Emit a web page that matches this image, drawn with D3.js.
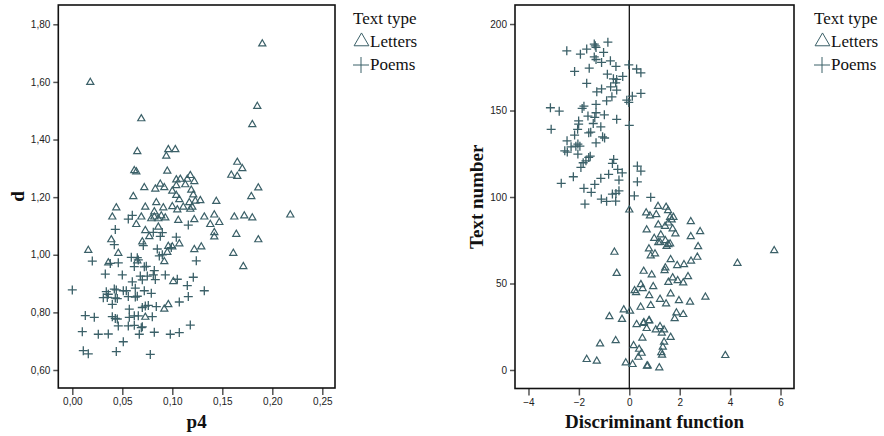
<!DOCTYPE html>
<html>
<head>
<meta charset="utf-8">
<script src="https://cdn.jsdelivr.net/npm/d3@7"></script>
<style>
  body { margin: 0; background: #fff; }
  svg { display: block; }
  .tick text { font-family: "Liberation Sans", Arial, sans-serif; font-size: 10px; fill: #222; }
  .tick line { stroke: #555; stroke-width: 1.5; }
  .title { font-family: "Liberation Serif", "Times New Roman", serif; font-weight: bold; font-size: 19px; fill: #111; }
  .legend text { font-family: "Liberation Serif", "Times New Roman", serif; font-size: 17px; fill: #111; }
</style>
</head>
<body>
<div id="chart"></div>
<script>
// Left panel: p4 vs d, [p4, d]
const lettersP4 = [
  [0.018,1.600],[0.190,1.734],[0.185,1.517],[0.180,1.454],[0.069,1.474],[0.065,1.360],
  [0.096,1.367],[0.103,1.367],[0.094,1.344],[0.062,1.294],[0.064,1.290],[0.095,1.292],
  [0.165,1.323],[0.170,1.301],[0.159,1.278],[0.165,1.274],[0.118,1.277],[0.104,1.262],
  [0.108,1.264],[0.115,1.264],[0.122,1.256],[0.072,1.235],[0.083,1.230],[0.088,1.247],
  [0.092,1.235],[0.104,1.242],[0.113,1.245],[0.100,1.223],[0.119,1.226],[0.104,1.208],
  [0.121,1.210],[0.186,1.234],[0.179,1.204],[0.061,1.204],[0.107,1.193],[0.117,1.183],
  [0.123,1.188],[0.128,1.190],[0.144,1.187],[0.084,1.183],[0.044,1.165],[0.073,1.167],
  [0.091,1.165],[0.100,1.169],[0.105,1.158],[0.111,1.167],[0.118,1.160],[0.120,1.167],
  [0.082,1.151],[0.218,1.140],[0.040,1.133],[0.069,1.133],[0.079,1.127],[0.082,1.133],
  [0.086,1.127],[0.089,1.137],[0.093,1.130],[0.132,1.133],[0.142,1.140],[0.162,1.133],
  [0.172,1.137],[0.180,1.130],[0.064,1.107],[0.106,1.121],[0.122,1.124],[0.138,1.107],
  [0.147,1.114],[0.142,1.079],[0.142,1.064],[0.164,1.073],[0.186,1.054],[0.161,1.007],
  [0.171,0.961],[0.073,1.086],[0.077,1.065],[0.086,1.098],[0.039,1.054],[0.070,1.047],
  [0.107,1.040],[0.096,1.031],[0.100,1.029],[0.129,1.029],[0.122,1.020],[0.016,1.017],
  [0.046,1.007],[0.095,1.010],[0.092,0.978],[0.065,0.981],[0.036,0.974],[0.101,0.909],
  [0.096,0.829],[0.092,0.813],[0.073,0.785]
];
const poemsP4 = [
  [0.056,1.124],[0.060,1.137],[0.116,1.103],[0.043,1.088],[0.081,1.078],[0.090,1.077],
  [0.088,1.064],[0.104,1.061],[0.042,1.035],[0.071,1.032],[0.099,1.025],[0.085,1.020],
  [0.090,1.000],[0.124,0.979],[0.020,0.978],[0.059,0.991],[0.065,0.990],[0.066,0.982],
  [0.087,0.996],[0.038,0.970],[0.046,0.972],[0.033,0.933],[0.050,0.930],[0.062,0.959],
  [0.072,0.958],[0.074,0.960],[0.082,0.945],[0.093,0.930],[0.068,0.926],[0.070,0.913],
  [0.075,0.926],[0.081,0.930],[0.083,0.914],[0.105,0.915],[0.121,0.922],[0.060,0.906],
  [0.115,0.893],[0.000,0.878],[0.042,0.881],[0.044,0.878],[0.051,0.875],[0.054,0.875],
  [0.063,0.884],[0.072,0.875],[0.079,0.866],[0.132,0.875],[0.034,0.872],[0.036,0.863],
  [0.031,0.851],[0.035,0.852],[0.043,0.850],[0.045,0.848],[0.056,0.855],[0.063,0.853],
  [0.065,0.856],[0.116,0.855],[0.040,0.828],[0.057,0.811],[0.070,0.817],[0.073,0.822],
  [0.076,0.824],[0.084,0.820],[0.107,0.836],[0.013,0.789],[0.022,0.783],[0.040,0.785],
  [0.043,0.779],[0.045,0.777],[0.057,0.783],[0.062,0.788],[0.066,0.788],[0.080,0.785],
  [0.046,0.753],[0.056,0.753],[0.062,0.755],[0.070,0.750],[0.118,0.756],[0.010,0.733],
  [0.026,0.724],[0.036,0.725],[0.067,0.724],[0.082,0.731],[0.098,0.724],[0.107,0.730],
  [0.069,0.747],[0.051,0.698],[0.011,0.667],[0.016,0.656],[0.044,0.664],[0.078,0.654]
];

// Right panel: discriminant function vs text number, [df, text number]
const lettersDf = [
  [0.00,92.8],[-1.69,6.4],[-1.29,5.4],[-1.16,15.4],[-0.79,31.2],[-0.54,17.3],[-0.59,68.4],
  [-0.50,56.2],[-0.29,29.6],[-0.22,35.1],[0.03,34.3],[-0.14,4.4],[0.13,3.5],[0.17,14.4],
  [0.39,12.3],[0.49,10.0],[0.36,7.7],[0.70,2.5],[0.52,18.7],[0.29,26.6],[0.45,36.6],
  [0.58,27.7],[0.69,24.3],[0.79,28.9],[0.21,46.2],[0.27,45.1],[0.46,49.7],[0.53,47.4],
  [0.79,43.3],[0.85,37.6],[0.95,48.5],[0.57,57.4],[0.89,55.3],[0.78,70.3],[0.85,66.3],
  [1.02,67.4],[0.69,81.3],[0.99,76.4],[1.15,74.0],[0.67,91.1],[0.82,89.4],[1.07,90.1],
  [1.14,94.9],[1.15,84.2],[1.46,94.4],[1.54,92.4],[1.62,88.6],[1.68,87.1],[1.75,88.6],
  [2.44,86.1],[1.42,83.4],[1.55,85.3],[1.72,81.9],[1.83,79.0],[2.81,80.3],[1.25,78.4],
  [1.22,74.1],[1.43,75.1],[1.55,72.8],[1.48,71.8],[1.62,73.2],[2.44,77.4],[2.73,71.6],
  [1.64,64.1],[2.70,65.5],[2.45,63.2],[2.17,61.2],[1.90,60.7],[1.43,59.3],[1.40,57.8],
  [2.33,54.3],[1.72,53.6],[1.92,52.0],[2.14,50.7],[1.55,51.0],[1.22,41.2],[1.64,44.3],
  [1.97,40.4],[2.41,39.5],[3.02,42.4],[1.46,38.5],[1.87,33.3],[2.14,32.4],[1.80,30.0],
  [0.56,27.3],[0.78,28.7],[1.05,23.5],[1.22,25.4],[1.29,21.6],[1.38,23.5],[1.64,19.2],
  [1.38,16.4],[1.33,13.5],[1.27,10.4],[1.30,8.9],[0.73,2.7],[1.19,1.6],[3.81,8.7],
  [5.75,69.3],[4.29,62.0]
];
const poemsDf = [
  [-2.48,184.5],[-1.94,182.6],[-1.69,185.5],[-1.39,188.4],[-1.35,187.4],[-1.32,186.5],
  [-1.02,183.6],[-0.85,189.5],[-1.39,181.0],[-1.32,179.5],[-1.10,177.8],[-0.75,178.7],
  [-2.17,172.6],[-1.59,174.5],[-0.53,175.5],[-0.02,176.4],[-0.87,171.0],[-0.63,168.3],
  [-0.50,168.0],[-0.54,166.0],[-0.26,169.7],[-1.69,165.7],[-0.74,163.7],[-1.10,162.5],
  [-1.29,160.8],[-0.50,161.8],[0.29,174.0],[0.46,171.8],[0.46,159.9],[0.12,158.3],
  [-0.10,156.0],[-0.02,154.7],[-0.69,157.9],[-0.90,155.6],[-1.32,153.5],[-3.13,151.6],
  [-2.78,149.6],[-1.87,151.2],[-1.80,152.5],[-1.32,148.7],[-1.37,146.0],[-1.64,146.8],
  [-0.99,147.5],[-0.50,144.9],[-2.01,144.0],[-2.01,142.1],[-1.43,142.5],[-1.13,140.6],
  [0.00,141.4],[-3.10,139.1],[-2.05,139.1],[-1.61,137.1],[-1.53,137.5],[-2.17,135.8],
  [-1.06,134.8],[-0.98,134.1],[-2.47,132.5],[-2.04,130.6],[-2.12,129.4],[-1.96,129.4],
  [-2.31,129.0],[-1.32,131.3],[-2.56,126.7],[-2.46,126.0],[-2.04,124.8],[-1.55,123.6],
  [-1.61,122.9],[-0.62,121.7],[-0.67,119.4],[-1.83,119.8],[-1.72,120.9],[-1.92,117.1],
  [0.32,117.9],[0.46,115.0],[-0.46,116.0],[-0.28,114.0],[-2.22,111.7],[-2.70,107.9],
  [-0.82,113.1],[-1.13,110.8],[-0.41,109.8],[0.32,108.8],[-1.37,107.3],[-1.80,105.0],
  [-1.51,102.7],[-0.41,103.6],[-0.53,102.1],[-0.67,101.7],[0.20,100.7],[0.85,99.8],
  [-1.11,98.8],[-0.90,97.5],[-0.54,97.6],[-1.76,95.9]
];

const p4Ticks = [0, 0.05, 0.10, 0.15, 0.20, 0.25];
const dTicks = [0.6, 0.8, 1.0, 1.2, 1.4, 1.6, 1.8];
const dfTicks = [-4, -2, 0, 2, 4, 6];
const numTicks = [0, 50, 100, 150, 200];
const legendLabels = ["Letters", "Poems"];

const markColor = "#3b6068";
const commaFmt = d => d3.format(".2f")(d).replace(".", ",");

const svg = d3.select("#chart")
    .append("svg")
    .attr("width", 884)
    .attr("height", 436);

const triangle = d3.symbol().type(d3.symbolTriangle).size(22);
const plus = s => "M" + (-s) + ",0H" + s + "M0," + (-s) + "V" + s;

function drawPanel(opts) {
    const x = d3.scaleLinear().domain(opts.xDomain).range([opts.left, opts.right]);
    const y = d3.scaleLinear().domain(opts.yDomain).range([opts.bottom, opts.top]);

    const g = svg.append("g");

    // x axis ticks
    g.append("g")
        .attr("transform", "translate(0," + opts.bottom + ")")
        .call(d3.axisBottom(x).tickValues(opts.xTicks).tickSize(7).tickPadding(3).tickFormat(opts.xFormat))
        .call(a => a.select(".domain").remove());

    // y axis ticks
    g.append("g")
        .attr("transform", "translate(" + opts.left + ",0)")
        .call(d3.axisLeft(y).tickValues(opts.yTicks).tickSize(5).tickPadding(3).tickFormat(opts.yFormat))
        .call(a => a.select(".domain").remove());

    // zero reference line
    if (opts.zeroLine) {
        g.append("line")
            .attr("x1", x(0)).attr("x2", x(0))
            .attr("y1", opts.top).attr("y2", opts.bottom)
            .attr("stroke", "#000")
            .attr("stroke-width", 1.2);
    }

    // points
    g.selectAll(".plus")
        .data(opts.poems)
        .enter().append("path")
        .attr("transform", d => "translate(" + x(d[0]) + "," + y(d[1]) + ")")
        .attr("d", plus(4.5))
        .attr("fill", "none")
        .attr("stroke", markColor)
        .attr("stroke-width", 1.3);

    g.selectAll(".tri")
        .data(opts.letters)
        .enter().append("path")
        .attr("transform", d => "translate(" + x(d[0]) + "," + (y(d[1]) + 0.5) + ")")
        .attr("d", triangle)
        .attr("fill", "none")
        .attr("stroke", markColor)
        .attr("stroke-width", 1.2);

    // frame
    g.append("rect")
        .attr("x", opts.left).attr("y", opts.top)
        .attr("width", opts.right - opts.left)
        .attr("height", opts.bottom - opts.top)
        .attr("fill", "none")
        .attr("stroke", "#111")
        .attr("stroke-width", 1.6);

    // axis titles
    g.append("text")
        .attr("class", "title")
        .attr("x", (opts.left + opts.right) / 2)
        .attr("y", 428)
        .attr("text-anchor", "middle")
        .text(opts.xLabel);

    g.append("text")
        .attr("class", "title")
        .attr("transform", "translate(" + opts.yLabelX + "," + ((opts.top + opts.bottom) / 2) + ") rotate(-90)")
        .attr("text-anchor", "middle")
        .text(opts.yLabel);

    // legend
    const lg = g.append("g")
        .attr("class", "legend")
        .attr("transform", "translate(" + opts.legendX + ",0)");

    lg.append("text").attr("x", 0).attr("y", 24).text("Text type");

    lg.append("path")
        .attr("transform", "translate(8.5,41.5)")
        .attr("d", d3.symbol().type(d3.symbolTriangle).size(95))
        .attr("fill", "none")
        .attr("stroke", markColor)
        .attr("stroke-width", 1);
    lg.append("text").attr("x", 17).attr("y", 47).text(legendLabels[0]);

    lg.append("path")
        .attr("transform", "translate(8,65)")
        .attr("d", plus(8))
        .attr("fill", "none")
        .attr("stroke", markColor)
        .attr("stroke-width", 1);
    lg.append("text").attr("x", 17).attr("y", 70).text(legendLabels[1]);
}

drawPanel({
    letters: lettersP4, poems: poemsP4,
    xDomain: [-0.014, 0.2627], yDomain: [0.5375, 1.867],
    left: 58.3, right: 335, top: 5, bottom: 388,
    xTicks: p4Ticks, yTicks: dTicks,
    xFormat: commaFmt, yFormat: commaFmt,
    xLabel: "p4", yLabel: "d", yLabelX: 24,
    legendX: 353
});

drawPanel({
    letters: lettersDf, poems: poemsDf,
    xDomain: [-4.535, 6.535], yDomain: [-10.7, 211],
    left: 515, right: 794, top: 5, bottom: 388.5,
    xTicks: dfTicks, yTicks: numTicks,
    xFormat: d3.format("d"), yFormat: d3.format("d"),
    xLabel: "Discriminant function", yLabel: "Text number", yLabelX: 483,
    legendX: 814, zeroLine: true
});
</script>
</body>
</html>
